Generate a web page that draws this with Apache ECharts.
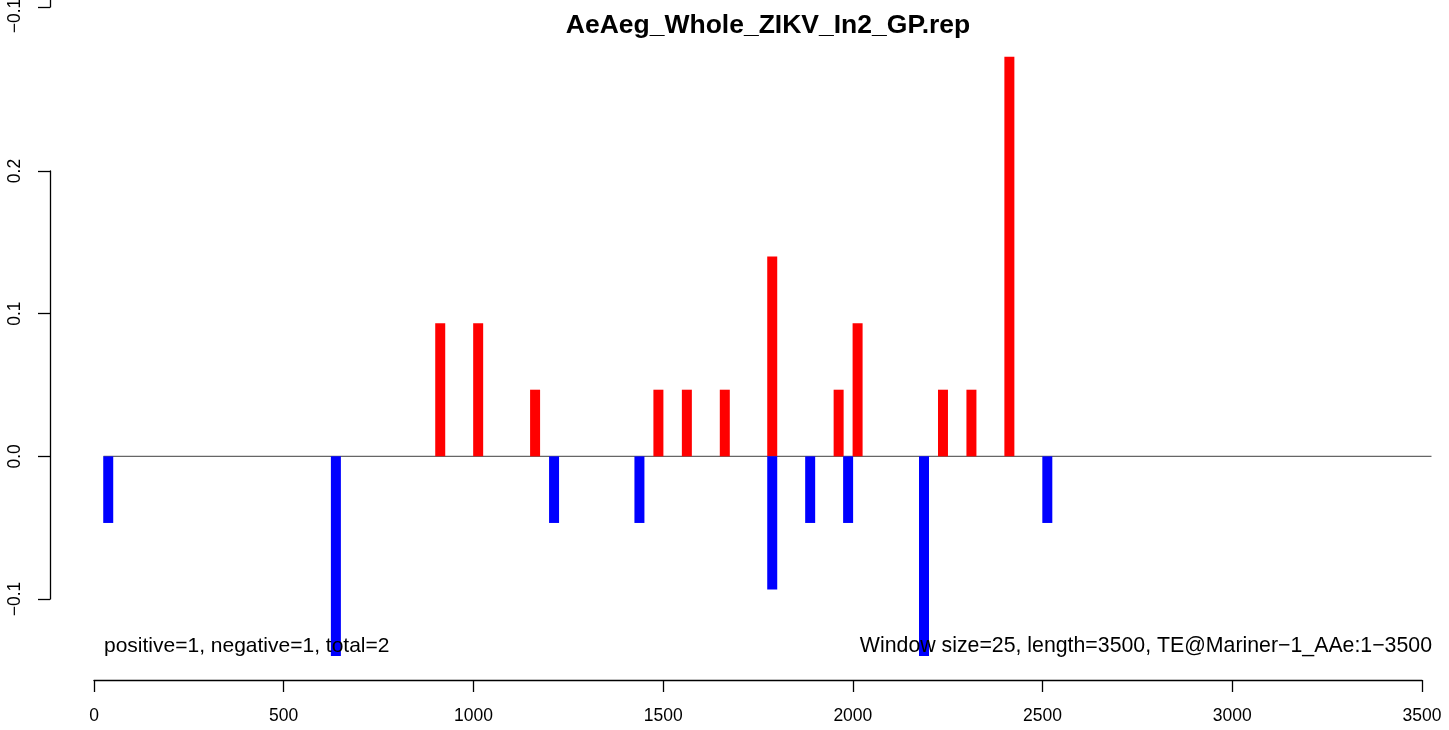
<!DOCTYPE html>
<html>
<head>
<meta charset="utf-8">
<script src="https://cdn.jsdelivr.net/npm/echarts@6/dist/echarts.min.js"></script>
<style>
html,body{margin:0;padding:0;background:#fff;}
#chart{width:1449px;height:730px;}
</style>
</head>
<body>
<div id="chart"></div>
<script>
// ---- data ----
var titleText = 'AeAeg_Whole_ZIKV_In2_GP.rep';
var posX = [912.5, 1012.5, 1162.5, 1487.5, 1562.5, 1662.5, 1787.5, 1962.5, 2012.5, 2237.5, 2312.5, 2412.5];
var posVal = [0.0933, 0.0933, 0.0467, 0.0467, 0.0467, 0.0467, 0.14, 0.0467, 0.0933, 0.0467, 0.0467, 0.28];
var negX = [37.5, 637.5, 1212.5, 1437.5, 1787.5, 1887.5, 1987.5, 2187.5, 2512.5];
var negVal = [-0.0467, -0.14, -0.0467, -0.0467, -0.0933, -0.0467, -0.0467, -0.14, -0.0467];
var baselineX = [25, 3525];
var xTicks = [0, 500, 1000, 1500, 2000, 2500, 3000, 3500];
var yTicks = [-0.1, 0.0, 0.1, 0.2];
var leftNote = 'positive=1, negative=1, total=2';
var rightNote = 'Window size=25, length=3500, TE@Mariner\u22121_AAe:1\u22123500';

var FONT = '"Liberation Sans", Arial, Helvetica, sans-serif';
function fmtY(v) {
  var s = Math.abs(v).toFixed(1);
  return (v < -1e-9 ? '\u2212' : '') + s;
}
function zip(xs, ys) { return xs.map(function (x, i) { return [x, ys[i]]; }); }

var chart = echarts.init(document.getElementById('chart'), null, {renderer: 'canvas'});
var axisLineStyle = {color: '#000', width: 1.3};
var xMax = xTicks[xTicks.length - 1];
var xPxPerUnit = (1449 - 94 - 27) / xMax;
var option = {
  animation: false,
  backgroundColor: '#fff',
  title: {
    text: titleText,
    left: 763, top: 7, textAlign: 'center',
    textStyle: {fontFamily: FONT, fontSize: 26.5, fontWeight: 'bold', color: '#000'}
  },
  grid: [
    {left: 94, right: 27, top: 171, bottom: 131, containLabel: false, outerBoundsMode: 'none'},
    {left: 94, right: 27, bottom: 723, height: 100, containLabel: false, outerBoundsMode: 'none'},
    // same plot region, extended to the baseline's right end (same px/unit scale)
    {left: 94, right: 27 - (baselineX[1] - xMax) * xPxPerUnit, top: 171, bottom: 131,
      containLabel: false, outerBoundsMode: 'none'}
  ],
  xAxis: [
    {
      type: 'value', gridIndex: 0, min: 0, max: xMax, interval: 500,
      position: 'bottom', offset: 81,
      axisLine: {show: true, onZero: false, lineStyle: axisLineStyle},
      axisTick: {show: true, length: 12, lineStyle: axisLineStyle},
      axisLabel: {show: true, margin: 27, fontFamily: FONT, fontSize: 17.5, color: '#000',
        formatter: function (v) { return String(v); }},
      splitLine: {show: false}
    },
    {type: 'value', gridIndex: 1, min: 0, max: xMax, show: false},
    {type: 'value', gridIndex: 2, min: 0, max: baselineX[1], show: false}
  ],
  yAxis: [
    {
      type: 'value', gridIndex: 0, min: yTicks[0], max: yTicks[yTicks.length - 1], interval: 0.1,
      position: 'left', offset: 44,
      axisLine: {show: true, onZero: false, lineStyle: axisLineStyle},
      axisTick: {show: true, length: 12, lineStyle: axisLineStyle},
      axisLabel: {show: true, rotate: 90, margin: 26, fontFamily: FONT, fontSize: 17.5, color: '#000',
        formatter: fmtY},
      splitLine: {show: false}
    },
    {
      type: 'value', gridIndex: 1, min: -0.1, max: 0, interval: 0.1,
      position: 'left', offset: 44,
      axisLine: {show: true, onZero: false, lineStyle: axisLineStyle},
      axisTick: {show: true, length: 12, lineStyle: axisLineStyle},
      axisLabel: {show: true, rotate: 90, margin: 26, fontFamily: FONT, fontSize: 17.5, color: '#000',
        padding: [0, 18, 0, 0],
        formatter: function (v) { return v < -0.05 ? fmtY(v) : ''; }},
      splitLine: {show: false}
    },
    {type: 'value', gridIndex: 2, min: yTicks[0], max: yTicks[yTicks.length - 1], show: false}
  ],
  series: [
    {
      type: 'line', xAxisIndex: 2, yAxisIndex: 2,
      data: baselineX.map(function (x) { return [x, 0]; }),
      symbol: 'none', clip: false, z: 1,
      lineStyle: {color: '#666666', width: 1.2}
    },
    {
      type: 'bar', xAxisIndex: 0, yAxisIndex: 0, name: 'positive',
      data: zip(posX, posVal), barWidth: 10, barGap: '-100%', clip: false, z: 2,
      itemStyle: {color: '#FF0000'}
    },
    {
      type: 'bar', xAxisIndex: 0, yAxisIndex: 0, name: 'negative',
      data: zip(negX, negVal), barWidth: 10, barGap: '-100%', clip: false, z: 2,
      itemStyle: {color: '#0000FF'}
    }
  ],
  graphic: [
    {type: 'text', left: 104, top: 636, z: 10,
      style: {text: leftNote, font: '21px ' + FONT, fill: '#000'}},
    {type: 'text', right: 17, top: 636, z: 10,
      style: {text: rightNote, font: '21.3px ' + FONT, fill: '#000'}}
  ]
};
chart.setOption(option);
</script>
</body>
</html>
